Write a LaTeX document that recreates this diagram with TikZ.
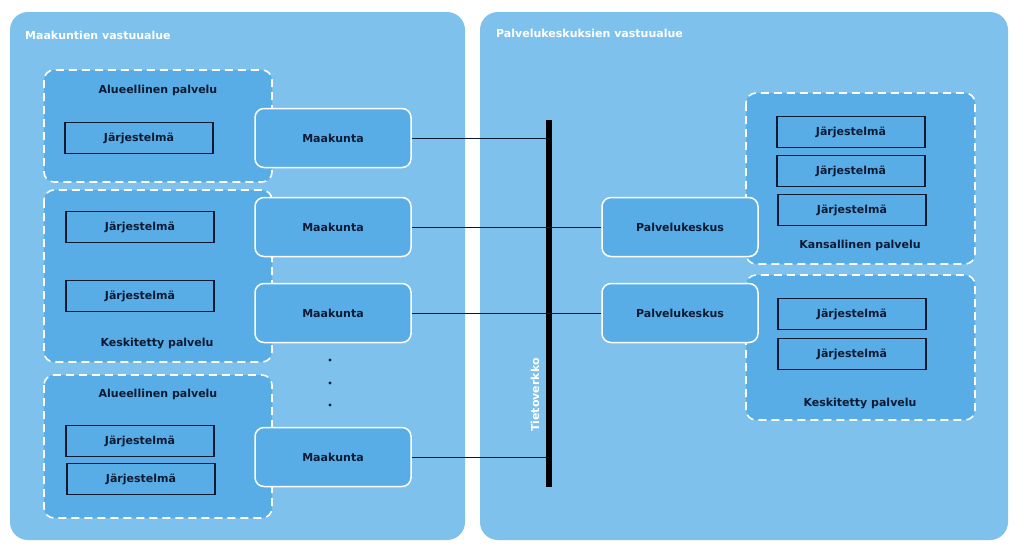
\documentclass[tikz,border=0pt]{standalone}
\usepackage{fontspec}
\setmainfont{DejaVu Sans}
\definecolor{panel}{HTML}{7DC1EC}
\definecolor{inner}{HTML}{58ADE6}
\definecolor{ink}{HTML}{0B1A33}
\begin{document}
\begin{tikzpicture}[x=1pt,y=-1pt,font=\bfseries\fontsize{11}{13}\selectfont,
 panelbox/.style={fill=panel,draw=none,rounded corners=18pt},
 svc/.style={fill=inner,draw=white,dashed,line width=1.6pt,dash pattern=on 8pt off 5pt,rounded corners=10pt},
 sys/.style={draw=ink,line width=1.3pt,fill=inner,text=ink,minimum width=148pt,minimum height=31pt,inner sep=0pt},
 org/.style={draw=white,line width=1.5pt,fill=inner,text=ink,rounded corners=9pt,minimum width=156pt,minimum height=59pt,inner sep=0pt},
 lbl/.style={text=ink,inner sep=0pt},
 ttl/.style={text=white,inner sep=0pt,anchor=west},
 conn/.style={draw=ink,line width=0.9pt}]
\useasboundingbox (0,0) rectangle (1024,550);
\fill[white] (0,0) rectangle (1024,550);
\draw[panelbox] (10,12) rectangle (465,540);
\draw[panelbox] (480,12) rectangle (1008,540);
\node[ttl] (t1) at (25,35) {Maakuntien vastuualue};
\node[ttl] (t2) at (496,33) {Palvelukeskuksien vastuualue};
% left service areas
\draw[svc] (44,70) rectangle (272,182);
\draw[svc] (44,190) rectangle (272,362);
\draw[svc] (44,375) rectangle (272,518);
\node[lbl] (la1) at (158,90) {Alueellinen palvelu};
\node[sys] (s1) at (139,138) {Järjestelmä};
\node[sys] (s2) at (140,227) {Järjestelmä};
\node[sys] (s3) at (140,296) {Järjestelmä};
\node[lbl] (lk1) at (157,343) {Keskitetty palvelu};
\node[lbl] (la2) at (158,394) {Alueellinen palvelu};
\node[sys] (s4) at (140,441) {Järjestelmä};
\node[sys] (s5) at (141,479) {Järjestelmä};
% right service areas
\draw[svc] (746,93) rectangle (975,264);
\draw[svc] (746,275) rectangle (975,420);
\node[sys] (r1) at (851,132) {Järjestelmä};
\node[sys] (r2) at (851,171) {Järjestelmä};
\node[sys] (r3) at (852,210) {Järjestelmä};
\node[lbl] (lkn) at (860,245) {Kansallinen palvelu};
\node[sys] (r4) at (852,314) {Järjestelmä};
\node[sys] (r5) at (852,354) {Järjestelmä};
\node[lbl] (lk2) at (860,403) {Keskitetty palvelu};
% bus
\coordinate (bt) at (549,120);
\coordinate (bb) at (549,487);
\coordinate (b1) at (549,138);
\coordinate (b4) at (549,457);
\draw[line width=6pt,black] (bt) -- (bb);
\node[text=white,rotate=90,inner sep=0pt] (tv) at (535,395) {Tietoverkko};
% org nodes
\node[org] (m1) at (333,138) {Maakunta};
\node[org] (m2) at (333,227) {Maakunta};
\node[org] (m3) at (333,313) {Maakunta};
\node[org] (m4) at (333,457) {Maakunta};
\node[org] (p1) at (680,227) {Palvelukeskus};
\node[org] (p2) at (680,313) {Palvelukeskus};
\draw[conn] (m1) -- (b1);
\draw[conn] (m2) -- (p1);
\draw[conn] (m3) -- (p2);
\draw[conn] (m4) -- (b4);
\foreach \yy/\nm in {360/d1,383/d2,405/d3}
  \fill[ink] (330,\yy) circle (1.6pt);
\end{tikzpicture}
\end{document}
